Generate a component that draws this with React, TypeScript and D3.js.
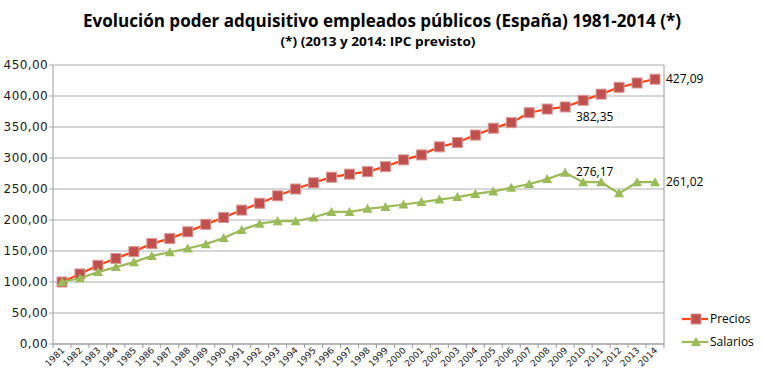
import React from "react";
import * as d3 from "d3";

const years = [
  "1981","1982","1983","1984","1985","1986","1987","1988","1989","1990",
  "1991","1992","1993","1994","1995","1996","1997","1998","1999","2000",
  "2001","2002","2003","2004","2005","2006","2007","2008","2009","2010",
  "2011","2012","2013","2014",
];
const precios = [
  100, 113, 127, 138, 149, 162, 170, 181, 193, 204,
  216, 227, 239, 250, 260, 269, 274, 278, 286, 297,
  305, 318, 325, 337, 348, 357, 373, 379, 382.35, 393,
  403, 414, 421, 427.09,
];
const salarios = [
  100, 106, 116, 124, 132, 142, 148, 154, 161, 171,
  184, 194, 198, 198, 204, 213, 213, 218, 221, 225,
  229, 233, 237, 242, 246, 252, 258, 266, 276.17, 261,
  261, 243, 261, 261.02,
];
const yTicks = [0, 50, 100, 150, 200, 250, 300, 350, 400, 450];
const seriesNames = ["Precios", "Salarios"];
const title = "Evolución poder adquisitivo empleados públicos (España) 1981-2014  (*)";
const subtitle = "(*) (2013 y 2014:  IPC previsto)";

const W = 764, H = 381;
const L = 53, R = 664, T = 65, B = 344;

const fmt = (v: number) => v.toFixed(2).replace(".", ",");

export default function App() {
  const x = d3.scalePoint<string>().domain(years).range([L, R]).padding(0.5);
  const step = x.step();
  const y = d3.scaleLinear().domain([0, 450]).range([B, T]);

  const line = d3
    .line<number>()
    .x((_, i) => x(years[i]) as number)
    .y((d) => y(d));

  const redLine = "#FF4515";
  const redFill = "#C0504D";
  const redStroke = "#DA9694";
  const green = "#9BBB59";

  const tri = (cx: number, cy: number, s = 5) =>
    `M${cx},${cy - s} L${cx + s},${cy + s * 0.8} L${cx - s},${cy + s * 0.8} Z`;

  const lastI = years.length - 1;
  const i2009 = years.indexOf("2009");

  return (
    <svg width={W} height={H} style={{ position: "absolute", left: 0, top: 0, background: "#fff" }}>
      <rect x={0} y={0} width={W} height={H} fill="#fff" />
      <text x={382} y={27} textAnchor="middle" fontFamily="Open Sans" fontWeight="bold" fontSize={18}
        textLength={598} lengthAdjust="spacingAndGlyphs" fill="#000">{title}</text>
      <text x={378} y={46} textAnchor="middle" fontFamily="Open Sans" fontWeight="bold" fontSize={12}
        textLength={195} lengthAdjust="spacingAndGlyphs" fill="#000">{subtitle}</text>

      {/* gridlines */}
      {yTicks.map((t) => (
        <g key={t}>
          <line x1={L - 4} x2={R} y1={y(t)} y2={y(t)} stroke="#ADADAD" strokeWidth={1} />
          <text x={48} y={y(t) + 4} textAnchor="end" fontFamily="DejaVu Sans" fontSize={12}
            letterSpacing={0.4} fill="#1a1a1a">{fmt(t)}</text>
        </g>
      ))}
      {/* axes */}
      <line x1={L} x2={L} y1={T} y2={B} stroke="#9A9A9A" />
      <line x1={R} x2={R} y1={T} y2={B} stroke="#9A9A9A" />
      <line x1={L} x2={R} y1={B} y2={B} stroke="#9A9A9A" />
      {d3.range(years.length + 1).map((i) => (
        <line key={i} x1={L + i * step} x2={L + i * step} y1={B} y2={B + 4} stroke="#9A9A9A" />
      ))}
      {years.map((yr) => (
        <text key={yr} transform={`translate(${(x(yr) as number) + 3},${351}) rotate(-45)`}
          textAnchor="end" fontFamily="DejaVu Sans" fontSize={9} fill="#1a1a1a">{yr}</text>
      ))}

      {/* Precios */}
      <path d={line(precios) || ""} fill="none" stroke={redLine} strokeWidth={2.25} />
      {precios.map((v, i) => (
        <rect key={i} x={(x(years[i]) as number) - 5} y={y(v) - 5} width={10} height={10}
          fill={redFill} stroke={redStroke} strokeWidth={1} />
      ))}
      {/* Salarios */}
      <path d={line(salarios) || ""} fill="none" stroke={green} strokeWidth={2.25} />
      {salarios.map((v, i) => (
        <path key={i} d={tri(x(years[i]) as number, y(v))} fill={green} />
      ))}

      {/* data labels */}
      <text x={666} y={y(precios[lastI]) + 4} fontFamily="Open Sans" fontSize={12} fill="#000">{fmt(precios[lastI])}</text>
      <text x={576} y={121} fontFamily="Open Sans" fontSize={12} fill="#000">{fmt(precios[i2009])}</text>
      <text x={576} y={y(salarios[i2009]) + 3} fontFamily="Open Sans" fontSize={12} fill="#000">{fmt(salarios[i2009])}</text>
      <text x={666} y={y(salarios[lastI]) + 4} fontFamily="Open Sans" fontSize={12} fill="#000">{fmt(salarios[lastI])}</text>

      {/* legend */}
      <g>
        <line x1={682} x2={708} y1={319} y2={319} stroke={redLine} strokeWidth={2.25} />
        <rect x={691} y={314} width={10} height={10} fill={redFill} stroke={redStroke} />
        <text x={710} y={323} fontFamily="Open Sans" fontSize={12} fill="#000">{seriesNames[0]}</text>
        <line x1={682} x2={708} y1={342} y2={342} stroke={green} strokeWidth={2.25} />
        <path d={tri(696, 342)} fill={green} />
        <text x={710} y={346} fontFamily="Open Sans" fontSize={12} fill="#000">{seriesNames[1]}</text>
      </g>
    </svg>
  );
}
